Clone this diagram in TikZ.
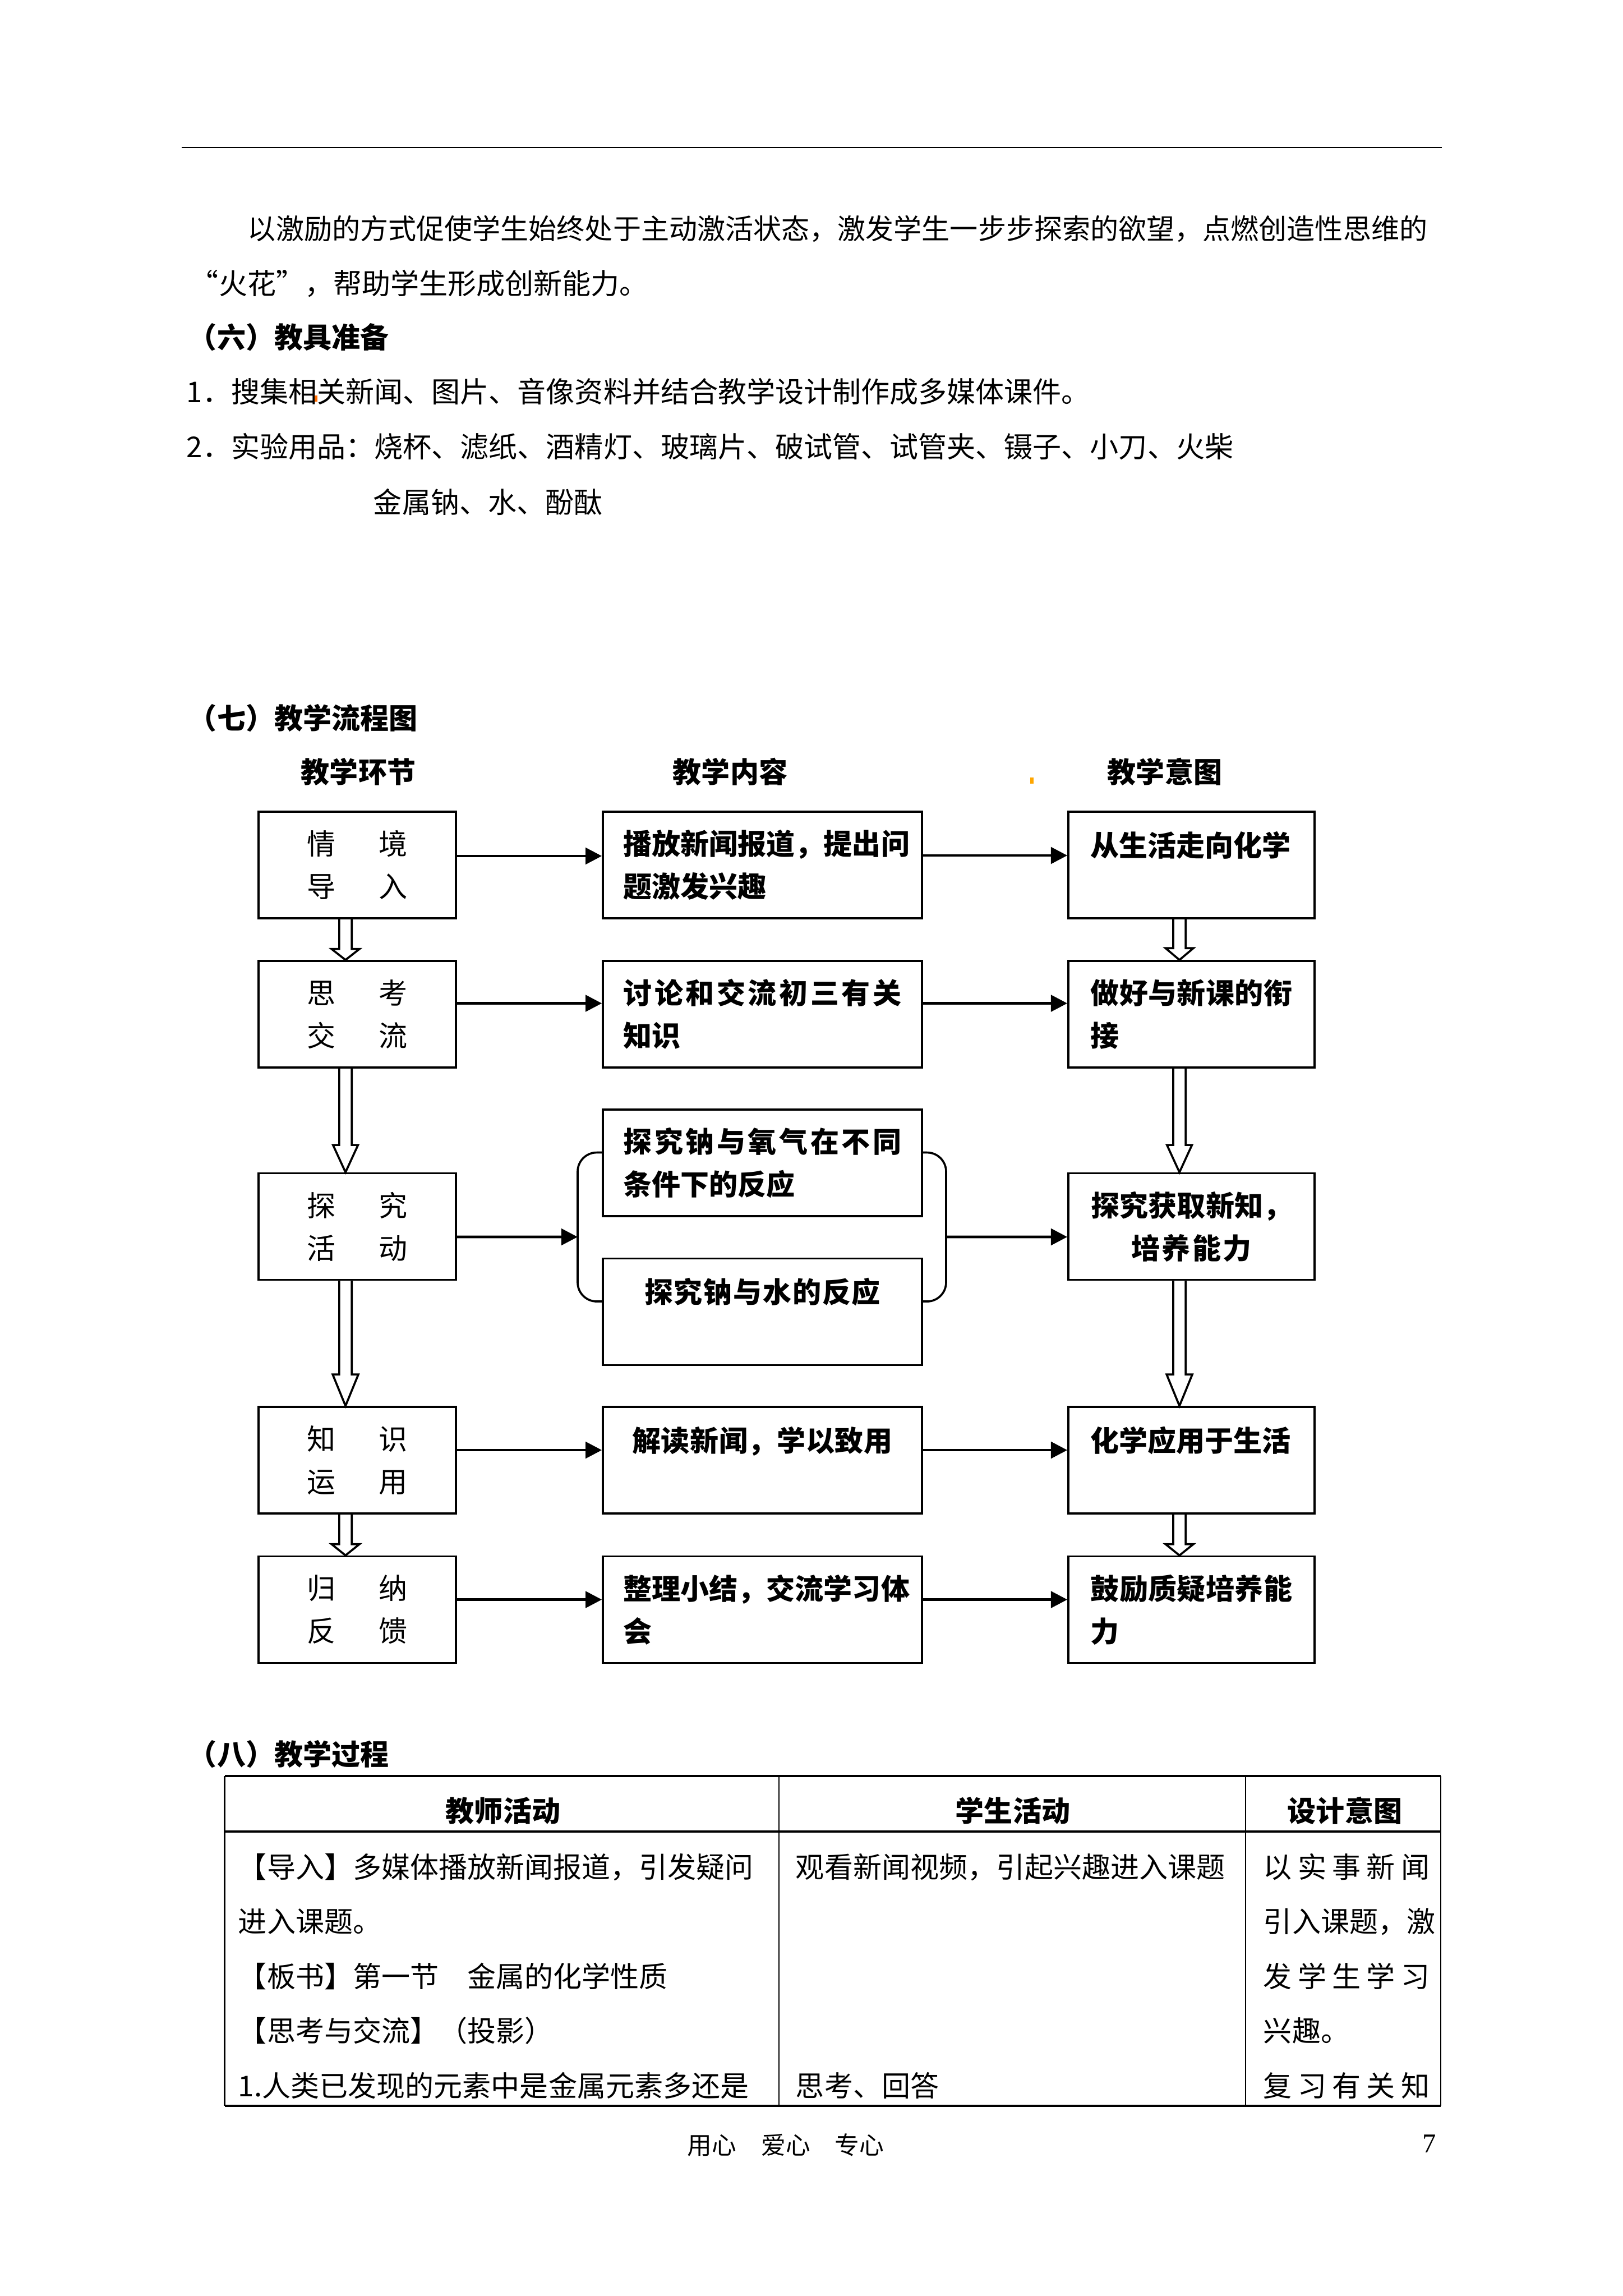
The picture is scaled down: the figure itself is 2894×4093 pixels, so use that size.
\documentclass[tikz,border=0pt]{standalone}
\usepackage{fontspec}
\setmainfont{Noto Sans CJK SC}
\newfontfamily\numfont{Liberation Serif}
\usetikzlibrary{arrows.meta,calc}
\XeTeXlinebreaklocale "zh"
\XeTeXlinebreakskip=0pt plus 1pt

% one unit = one pixel of the scanned page
\newcommand{\pxu}{0.20568pt}
\newcommand{\bodyfont}{\fontsize{10.5pt}{15.6pt}\selectfont}
\newcommand{\hollowdown}[4]{%
  \draw[hollow] let \p1=(#1), \p2=(#2) in
    (\x1-2.3pt,\y1) -- (\x1-2.3pt,\y2+#3) -- (\x1-#4,\y2+#3) -- (\x1,\y2)
    -- (\x1+#4,\y2+#3) -- (\x1+2.3pt,\y2+#3) -- (\x1+2.3pt,\y1);
}

\begin{document}
\begin{tikzpicture}[x=\pxu, y=-\pxu,
    txt/.style={anchor=base west, inner sep=0pt, font=\bodyfont},
    headtxt/.style={txt, font=\bodyfont\bfseries},
    stbox/.style={draw, line width=0.75pt, minimum width=352*\pxu, minimum height=190*\pxu,
        inner xsep=0pt, inner ysep=0pt, align=center, font=\bodyfont},
    ctbox/.style={stbox, minimum width=569*\pxu, text width=102pt, inner xsep=7.5pt,
        align=justify, font=\bodyfont\bfseries},
    imbox/.style={stbox, minimum width=439*\pxu, text width=74pt, inner xsep=8.15pt,
        align=justify, font=\bodyfont\bfseries},
    conn/.style={line width=1pt, -{Triangle[length=6pt,width=6pt]}},
    hollow/.style={line width=0.75pt},
    bracket/.style={line width=0.75pt, rounded corners=7pt}
]
\fill[white] (0,0) rectangle (2894,4093);
\useasboundingbox (0,0) rectangle (2894,4093);

% Page head rule
\draw[line width=0.6pt] (324,263) -- (2571,263);

% Text before the chart
\node[txt, font=\fontsize{10.3pt}{15.6pt}\selectfont] (p1) at (441,426) {以激励的方式促使学生始终处于主动激活状态，激发学生一步步探索的欲望，点燃创造性思维的};
\node[txt] (p2) at (338,524) {“火花”，帮助学生形成创新能力。};
\node[headtxt] (h6) at (335,620) {（六）教具准备};
\node[txt] (p3) at (332,717) {1．搜集相关新闻、图片、音像资料并结合教学设计制作成多媒体课件。};
\node[txt] (p4) at (332,815) {2．实验用品：烧杯、滤纸、酒精灯、玻璃片、破试管、试管夹、镊子、小刀、火柴};
\node[txt] (p5) at (665,914) {金属钠、水、酚酞};
\fill[orange!85!red] (561,705) rectangle (566,716);
\fill[orange!70!yellow] (1837,1386) rectangle (1843,1397);

% Chart title and column heads
\node[headtxt] (h7) at (335,1299.5) {（七）教学流程图};
\node[headtxt, anchor=base] (colA) at (639,1395.5) {教学环节};
\node[headtxt, anchor=base] (colB) at (1302,1395.5) {教学内容};
\node[headtxt, anchor=base] (colC) at (2077,1395.5) {教学意图};

% Row 1
\node[stbox] (st1) at (637,1542) {情\hspace{1.5em}境\\导\hspace{1.5em}入};
\node[ctbox] (ct1) at (1359.5,1542) {\mbox{播放新闻报道，提出问}\\题激发兴趣};
\node[imbox] (im1) at (2124.5,1542) {从生活走向化学\\\mbox{}};

% Row 2
\node[stbox] (st2) at (637,1808) {思\hspace{1.5em}考\\交\hspace{1.5em}流};
\node[ctbox] (ct2) at (1359.5,1808) {讨论和交流初三有关知识};
\node[imbox] (im2) at (2124.5,1808) {做好与新课的衔接};

% Row 3
\node[stbox] (st3) at (637,2186.5) {探\hspace{1.5em}究\\活\hspace{1.5em}动};
\node[ctbox] (ct3a) at (1359.5,2073) {探究钠与氧气在不同条件下的反应};
\node[ctbox, align=center] (ct3b) at (1359.5,2338.5) {探究钠与水的反应\\\mbox{}};
\node[imbox, align=center] (im3) at (2124.5,2186.5) {探究获取新知，\\培养能力};
\coordinate (brL) at (1030,2205);
\coordinate (brR) at (1687,2205);

% Row 4
\node[stbox] (st4) at (637,2603) {知\hspace{1.5em}识\\运\hspace{1.5em}用};
\node[ctbox, align=center] (ct4) at (1359.5,2603) {解读新闻，学以致用\\\mbox{}};
\node[imbox] (im4) at (2124.5,2603) {化学应用于生活\\\mbox{}};

% Row 5
\node[stbox] (st5) at (637,2869.5) {归\hspace{1.5em}纳\\反\hspace{1.5em}馈};
\node[ctbox] (ct5) at (1359.5,2869.5) {\mbox{整理小结，交流学习体}\\会};
\node[imbox] (im5) at (2124.5,2869.5) {鼓励质疑培养能力};

% Arrows across
\draw[conn] ([yshift=3.3pt]st1.east) -- ([yshift=3.3pt]ct1.west);
\draw[conn] ([yshift=3.5pt]ct1.east) -- ([yshift=3.5pt]im1.west);
\draw[conn] ([yshift=4pt]st2.east) -- ([yshift=4pt]ct2.west);
\draw[conn] ([yshift=4pt]ct2.east) -- ([yshift=4pt]im2.west);
\draw[conn] ([yshift=-3.8pt]st3.east) -- (brL);
\draw[bracket] ([yshift=3.8pt]ct3a.west) -| (brL) |- ([yshift=3.8pt]ct3b.west);
\draw[bracket] ([yshift=3.8pt]ct3a.east) -| (brR) |- ([yshift=3.8pt]ct3b.east);
\draw[conn] (brR) -- ([yshift=-3.8pt]im3.west);
\draw[conn] ([yshift=3.7pt]st4.east) -- ([yshift=3.7pt]ct4.west);
\draw[conn] ([yshift=3.7pt]ct4.east) -- ([yshift=3.7pt]im4.west);
\draw[conn] ([yshift=3.7pt]st5.east) -- ([yshift=3.7pt]ct5.west);
\draw[conn] ([yshift=3.7pt]ct5.east) -- ([yshift=3.7pt]im5.west);

% Arrows down
\hollowdown{[xshift=-4.3pt]st1.south}{[xshift=-4.3pt]st2.north}{4pt}{5.1pt}
\hollowdown{[xshift=-4.3pt]st2.south}{[xshift=-4.3pt]st3.north}{10pt}{4.6pt}
\hollowdown{[xshift=-4.3pt]st3.south}{[xshift=-4.3pt]st4.north}{11.5pt}{4.7pt}
\hollowdown{[xshift=-4.3pt]st4.south}{[xshift=-4.3pt]st5.north}{4.1pt}{5.1pt}
\hollowdown{[xshift=-4.4pt]im1.south}{[xshift=-4.4pt]im2.north}{4.3pt}{5.1pt}
\hollowdown{[xshift=-4.4pt]im2.south}{[xshift=-4.4pt]im3.north}{10pt}{4.6pt}
\hollowdown{[xshift=-4.4pt]im3.south}{[xshift=-4.4pt]im4.north}{11.5pt}{4.7pt}
\hollowdown{[xshift=-4.4pt]im4.south}{[xshift=-4.4pt]im5.north}{4.1pt}{5.1pt}

% Teaching process table
\node[headtxt] (h8) at (335,3146) {（八）教学过程};
\draw[line width=0.5pt] (400.5,3166) -- (400.5,3754) (1389,3166) -- (1389,3754)
    (2221,3166) -- (2221,3754) (2569,3166) -- (2569,3754);
\draw[line width=0.8pt] (400.5,3166) -- (2569,3166) (400.5,3265) -- (2569,3265)
    (400.5,3754) -- (2569,3754);
\node[headtxt, anchor=base] (tA) at (897,3247) {教师活动};
\node[headtxt, anchor=base] (tB) at (1806,3247) {学生活动};
\node[headtxt, anchor=base] (tC) at (2398,3247) {设计意图};

\node[txt] (a1) at (424,3347.5) {【导入】多媒体播放新闻报道，引发疑问};
\node[txt] (a2) at (424,3444.9) {进入课题。};
\node[txt] (a3) at (424,3542.3) {【板书】第一节　金属的化学性质};
\node[txt] (a4) at (424,3639.7) {【思考与交流】（投影）};
\node[txt] (a5) at (424,3737.1) {1.人类已发现的元素中是金属元素多还是};

\node[txt] (b1) at (1418,3347.5) {观看新闻视频，引起兴趣进入课题};
\node[txt] (b5) at (1418,3737.1) {思考、回答};

\node[txt] (c1) at (2252,3347.5) {\makebox[60.9pt][l]{以\hfill 实\hfill 事\hfill 新\hfill 闻}};
\node[txt] (c2) at (2252,3444.9) {引入课题，激};
\node[txt] (c3) at (2252,3542.3) {\makebox[60.9pt][l]{发\hfill 学\hfill 生\hfill 学\hfill 习}};
\node[txt] (c4) at (2252,3639.7) {兴趣。};
\node[txt] (c5) at (2252,3737.1) {\makebox[60.9pt][l]{复\hfill 习\hfill 有\hfill 关\hfill 知}};

% Page foot
\node[txt, font=\fontsize{9pt}{10pt}\selectfont] (foot) at (1225,3840) {用心　爱心　专心};
\node[anchor=base east, inner sep=0pt, font=\numfont\fontsize{10pt}{12pt}\selectfont] (pg) at (2562,3837) {7};

\end{tikzpicture}
\end{document}
